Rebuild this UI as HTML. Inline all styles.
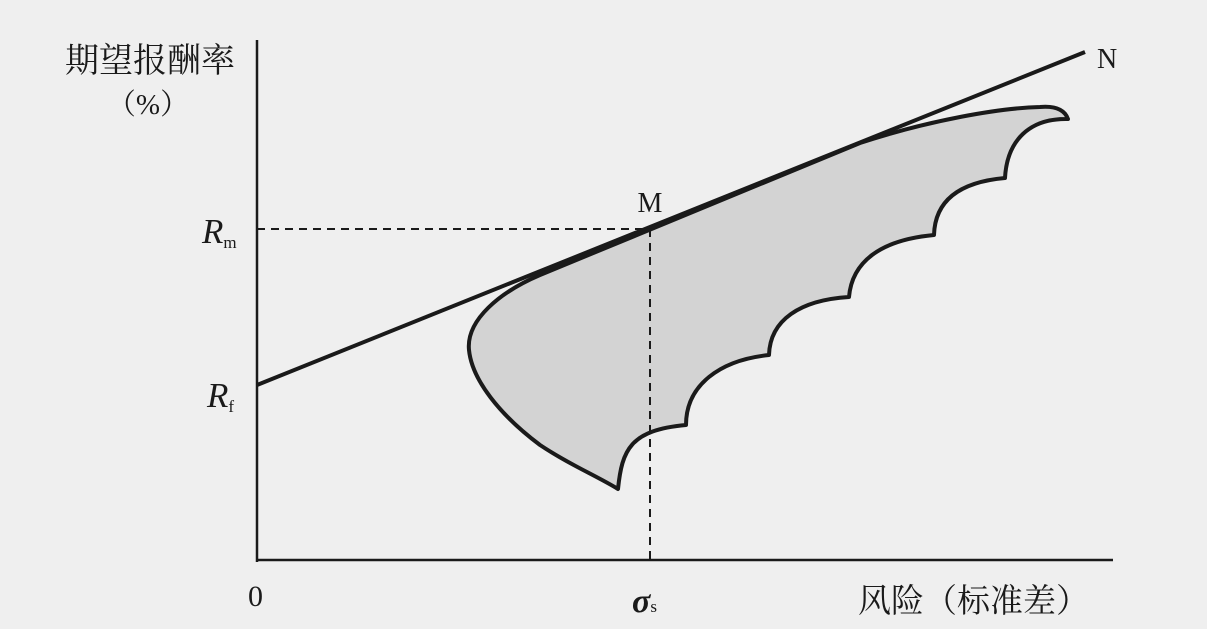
<!DOCTYPE html>
<html><head><meta charset="utf-8"><style>
html,body{margin:0;padding:0;background:#efefef;}
svg{display:block;}
text{font-family:"Liberation Serif","Noto Serif CJK SC",serif;fill:#1a1a1a;}
</style></head><body>
<svg width="1207" height="629" viewBox="0 0 1207 629" xmlns="http://www.w3.org/2000/svg">
<rect width="1207" height="629" fill="#efefef"/>
<path d="M618,489 C622,450 630,430 686,425 C686,385 720,360 769,355 C770,320 800,300 849,297 C852,262 880,240 934,235 C935,200 960,182 1005,178 C1007,140 1030,118 1068,119 C1064,108 1052,106 1040,107 C1000,108 930,120 860,143 L540,275 C500,292 466,320 469,350 C472,380 500,415 540,445 C570,465 595,475 618,489 Z" fill="#d3d3d3" stroke="#1a1a1a" stroke-width="4" stroke-linejoin="round"/>
<line x1="257" y1="40" x2="257" y2="562" stroke="#1a1a1a" stroke-width="2.5"/>
<line x1="256" y1="560" x2="1113" y2="560" stroke="#1a1a1a" stroke-width="2.5"/>
<line x1="257" y1="229" x2="650" y2="229" stroke="#1a1a1a" stroke-width="2" stroke-dasharray="8,6"/>
<line x1="650" y1="229" x2="650" y2="560" stroke="#1a1a1a" stroke-width="2" stroke-dasharray="8,6"/>
<line x1="257" y1="385" x2="1085" y2="52" stroke="#1a1a1a" stroke-width="4"/>
<text x="150" y="72" font-size="34" text-anchor="middle">期望报酬率</text>
<text x="148" y="114" font-size="29" text-anchor="middle">（%）</text>
<text x="202" y="243" font-size="35" font-style="italic">R<tspan font-size="17" font-style="normal" dy="5">m</tspan></text>
<text x="207" y="407" font-size="35" font-style="italic">R<tspan font-size="17" font-style="normal" dy="5">f</tspan></text>
<text x="650" y="212" font-size="28" text-anchor="middle">M</text>
<text x="1097" y="68" font-size="28">N</text>
<text x="248" y="606" font-size="30">0</text>
<text x="632" y="612" font-size="34" font-style="italic" font-weight="bold">σ<tspan font-size="17" font-style="normal" font-weight="normal">s</tspan></text>
<text x="858" y="612" font-size="33">风险（标准差）</text>
</svg>
</body></html>
